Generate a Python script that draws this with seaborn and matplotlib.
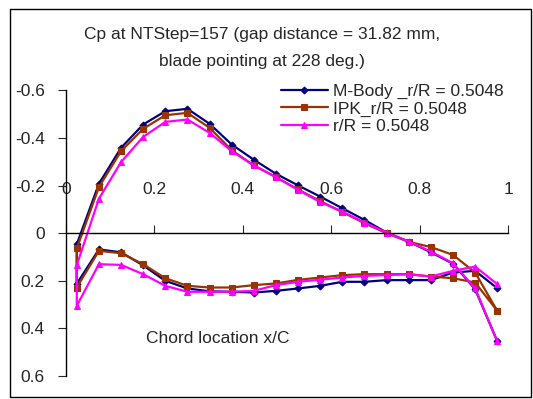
import matplotlib
matplotlib.use("Agg")
import matplotlib.pyplot as plt
import seaborn as sns
import pandas as pd
from matplotlib.patches import Rectangle

# chord stations (same for suction and pressure side)
x_chord = [0.025, 0.075, 0.125, 0.175, 0.225, 0.275, 0.325, 0.375, 0.425, 0.475,
           0.525, 0.575, 0.625, 0.675, 0.725, 0.775, 0.825, 0.875, 0.925, 0.975]

# M-Body
mbody_upper = [0.046, -0.208, -0.359, -0.457, -0.513, -0.523, -0.460, -0.373, -0.309, -0.250,
               -0.201, -0.154, -0.105, -0.056, -0.003, 0.035, 0.080, 0.128, 0.235, 0.454]
mbody_lower = [0.212, 0.068, 0.080, 0.135, 0.200, 0.232, 0.244, 0.246, 0.249, 0.242,
               0.232, 0.221, 0.204, 0.204, 0.197, 0.197, 0.197, 0.165, 0.158, 0.231]

# IPK
ipk_upper = [0.064, -0.194, -0.345, -0.439, -0.496, -0.506, -0.443, -0.349, -0.285, -0.236,
             -0.184, -0.135, -0.089, -0.042, 0.000, 0.036, 0.058, 0.091, 0.165, 0.326]
ipk_lower = [0.228, 0.074, 0.084, 0.130, 0.189, 0.221, 0.228, 0.228, 0.218, 0.211,
             0.196, 0.186, 0.176, 0.172, 0.172, 0.172, 0.182, 0.189, 0.207, 0.326]

# r/R
rr_upper = [0.134, -0.145, -0.299, -0.405, -0.468, -0.478, -0.422, -0.345, -0.285, -0.236,
            -0.182, -0.131, -0.091, -0.045, -0.003, 0.035, 0.077, 0.126, 0.232, 0.454]
rr_lower = [0.305, 0.130, 0.133, 0.172, 0.221, 0.246, 0.246, 0.246, 0.242, 0.218,
            0.204, 0.195, 0.186, 0.179, 0.176, 0.172, 0.182, 0.158, 0.140, 0.214]

labels = ["M-Body _r/R = 0.5048", "IPK_r/R = 0.5048", "r/R = 0.5048"]
colors = ["#000080", "#993300", "#FF00FF"]
markers = ["D", "s", "^"]
msizes = [3.5, 5, 5]

x_ticks = [0, 0.2, 0.4, 0.6, 0.8, 1]
y_ticks = [-0.6, -0.4, -0.2, 0, 0.2, 0.4, 0.6]

sns.set_style("ticks")
plt.rcParams['font.family'] = ['Liberation Sans', 'DejaVu Sans']
fs = 12.5

fig = plt.figure(figsize=(5.33, 3.99), dpi=100)
ax = fig.add_axes([0.1233, 0.0576, 0.8304, 0.7156])

series = [(mbody_upper, mbody_lower), (ipk_upper, ipk_lower), (rr_upper, rr_lower)]
for (up, lo), lab, col, mk, ms in zip(series, labels, colors, markers, msizes):
    # walk around the blade: pressure side TE -> LE, then suction side LE -> TE
    df = pd.DataFrame({"x": x_chord[::-1] + x_chord, "cp": lo[::-1] + up})
    sns.lineplot(data=df, x="x", y="cp", sort=False, estimator=None, ax=ax,
                 color=col, marker=mk, markersize=ms, markeredgecolor=col,
                 linewidth=1.6, label=lab)

ax.set_xlim(0, 1)
ax.set_ylim(0.6, -0.6)
ax.set_xticks(x_ticks)
ax.set_xticklabels(["0", "0.2", "0.4", "0.6", "0.8", "1"])
ax.set_yticks(y_ticks)
ax.set_yticklabels(["-0.6", "-0.4", "-0.2", "0", "0.2", "0.4", "0.6"])

ax.spines['top'].set_visible(False)
ax.spines['right'].set_visible(False)
ax.spines['bottom'].set_position(('data', 0))
for s in ax.spines.values():
    s.set_linewidth(1.0)
    s.set_color('black')
ax.tick_params(axis='x', direction='in', length=6, pad=-37, labelsize=fs)
ax.tick_params(axis='y', direction='out', length=6, pad=9, labelsize=fs)

ax.set_ylabel("")
ax.set_xlabel("Chord location x/C", fontsize=fs)
ax.xaxis.set_label_coords(0.344, 0.13)
ax.xaxis.label.set_verticalalignment('center')

leg = ax.legend(loc='upper left', bbox_to_anchor=(281 / 533, 1 - 84 / 399),
                bbox_transform=fig.transFigure, frameon=False, fontsize=fs,
                handlelength=2.7, handletextpad=0.3, labelspacing=0.12,
                borderpad=0, borderaxespad=0)

fig.text(262 / 533, 1 - 48 / 399,
         "Cp at NTStep=157 (gap distance = 31.82 mm,\nblade pointing at 228 deg.)",
         ha='center', va='center', fontsize=fs, linespacing=1.95)

# chart border
fig.patches.append(Rectangle((10 / 533, 2 / 399), 521 / 533, 388 / 399,
                             transform=fig.transFigure, fill=False,
                             edgecolor='black', linewidth=1.0))

fig.savefig("out.png", dpi=100)
